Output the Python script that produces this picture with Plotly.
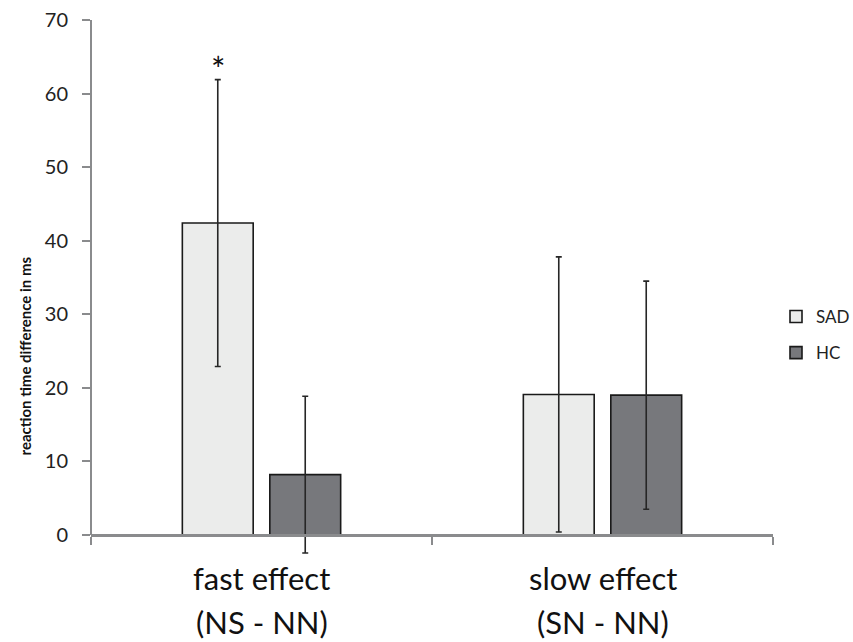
import plotly.graph_objects as go

# Category labels (two lines each) and group data
categories = ["fast effect", "slow effect"]
category_sub = ["(NS - NN)", "(SN - NN)"]
groups = ["SAD", "HC"]
sad_mean = [42.4, 19.1]
sad_err = [19.5, 18.7]
hc_mean = [8.2, 19.0]
hc_err = [10.65, 15.5]
y_ticks = [0, 10, 20, 30, 40, 50, 60, 70]

BARGAP = 0.487
BARGROUPGAP = 0.19
Y_MIN, Y_MAX = -3, 70
AXIS_GREY = "#8a8b8d"
FONT = "Lato"

fig = go.Figure()
fig.add_trace(go.Bar(
    name=groups[0], x=categories, y=sad_mean,
    marker=dict(color="#ebeceb", line=dict(color="#1a1a1a", width=1.6)),
    error_y=dict(type="data", array=sad_err, color="#262626", thickness=1.6, width=3),
    legendgroup="a",
))
fig.add_trace(go.Bar(
    name=groups[1], x=categories, y=hc_mean,
    marker=dict(color="#77787c", line=dict(color="#1a1a1a", width=1.6)),
    error_y=dict(type="data", array=hc_err, color="#262626", thickness=1.6, width=3),
    legendgroup="b",
))

# significance marker over the SAD bar of the first category
slot = (1 - BARGAP) / 2
fig.add_annotation(
    x=0 - slot / 2, y=sad_mean[0] + sad_err[0], xref="x", yref="y",
    text="*", showarrow=False, yanchor="bottom", yshift=-11,
    font=dict(family=FONT, size=34, color="#111"),
)

# two-line category labels below the axis
for i, (main, sub) in enumerate(zip(categories, category_sub)):
    fig.add_annotation(x=i, y=-0.0436, xref="x", yref="paper", text=main,
                       showarrow=False, yanchor="middle", yshift=2,
                       font=dict(family=FONT, size=31, color="#111"))
    fig.add_annotation(x=i, y=-0.1217, xref="x", yref="paper", text=sub,
                       showarrow=False, yanchor="middle",
                       font=dict(family=FONT, size=31, color="#111"))

# y-axis title
fig.add_annotation(x=-0.0968, y=0.4405, xref="paper", yref="paper",
                   text="<b>reaction time difference in ms</b>", textangle=-90,
                   showarrow=False, xanchor="center", yanchor="middle", yshift=-35,
                   font=dict(family=FONT, size=15, color="#111"))

# vertical axis line from 0 to the top tick
fig.add_shape(type="line", xref="paper", yref="y", x0=0, x1=0, y0=0, y1=Y_MAX,
              line=dict(color=AXIS_GREY, width=2))

fig.update_layout(
    width=853, height=642,
    margin=dict(l=91, r=80, t=19.5, b=85.4, autoexpand=False),
    paper_bgcolor="white", plot_bgcolor="white",
    barmode="group", bargap=BARGAP, bargroupgap=BARGROUPGAP,
    font=dict(family=FONT, color="#222"),
    showlegend=True,
    legend=dict(x=1.0044, xanchor="left", y=0.4135, yanchor="middle",
                font=dict(family=FONT, size=17, color="#222"),
                tracegroupgap=11, bgcolor="rgba(0,0,0,0)"),
    xaxis=dict(
        type="category", range=[-0.5, 1.5],
        anchor="free", position=(0 - Y_MIN) / (Y_MAX - Y_MIN),
        showline=True, linecolor=AXIS_GREY, linewidth=3,
        ticks="outside", tickson="boundaries", ticklen=8, tickwidth=2, tickcolor=AXIS_GREY,
        showticklabels=False, showgrid=False, zeroline=False,
    ),
    yaxis=dict(
        range=[Y_MIN, Y_MAX], tickvals=y_ticks,
        showline=False, showgrid=False, zeroline=False,
        ticks="outside", ticklen=8, tickwidth=2, tickcolor=AXIS_GREY,
        ticklabelstandoff=10,
        tickfont=dict(family=FONT, size=20, color="#222"),
    ),
)

fig.write_html("out.html")
